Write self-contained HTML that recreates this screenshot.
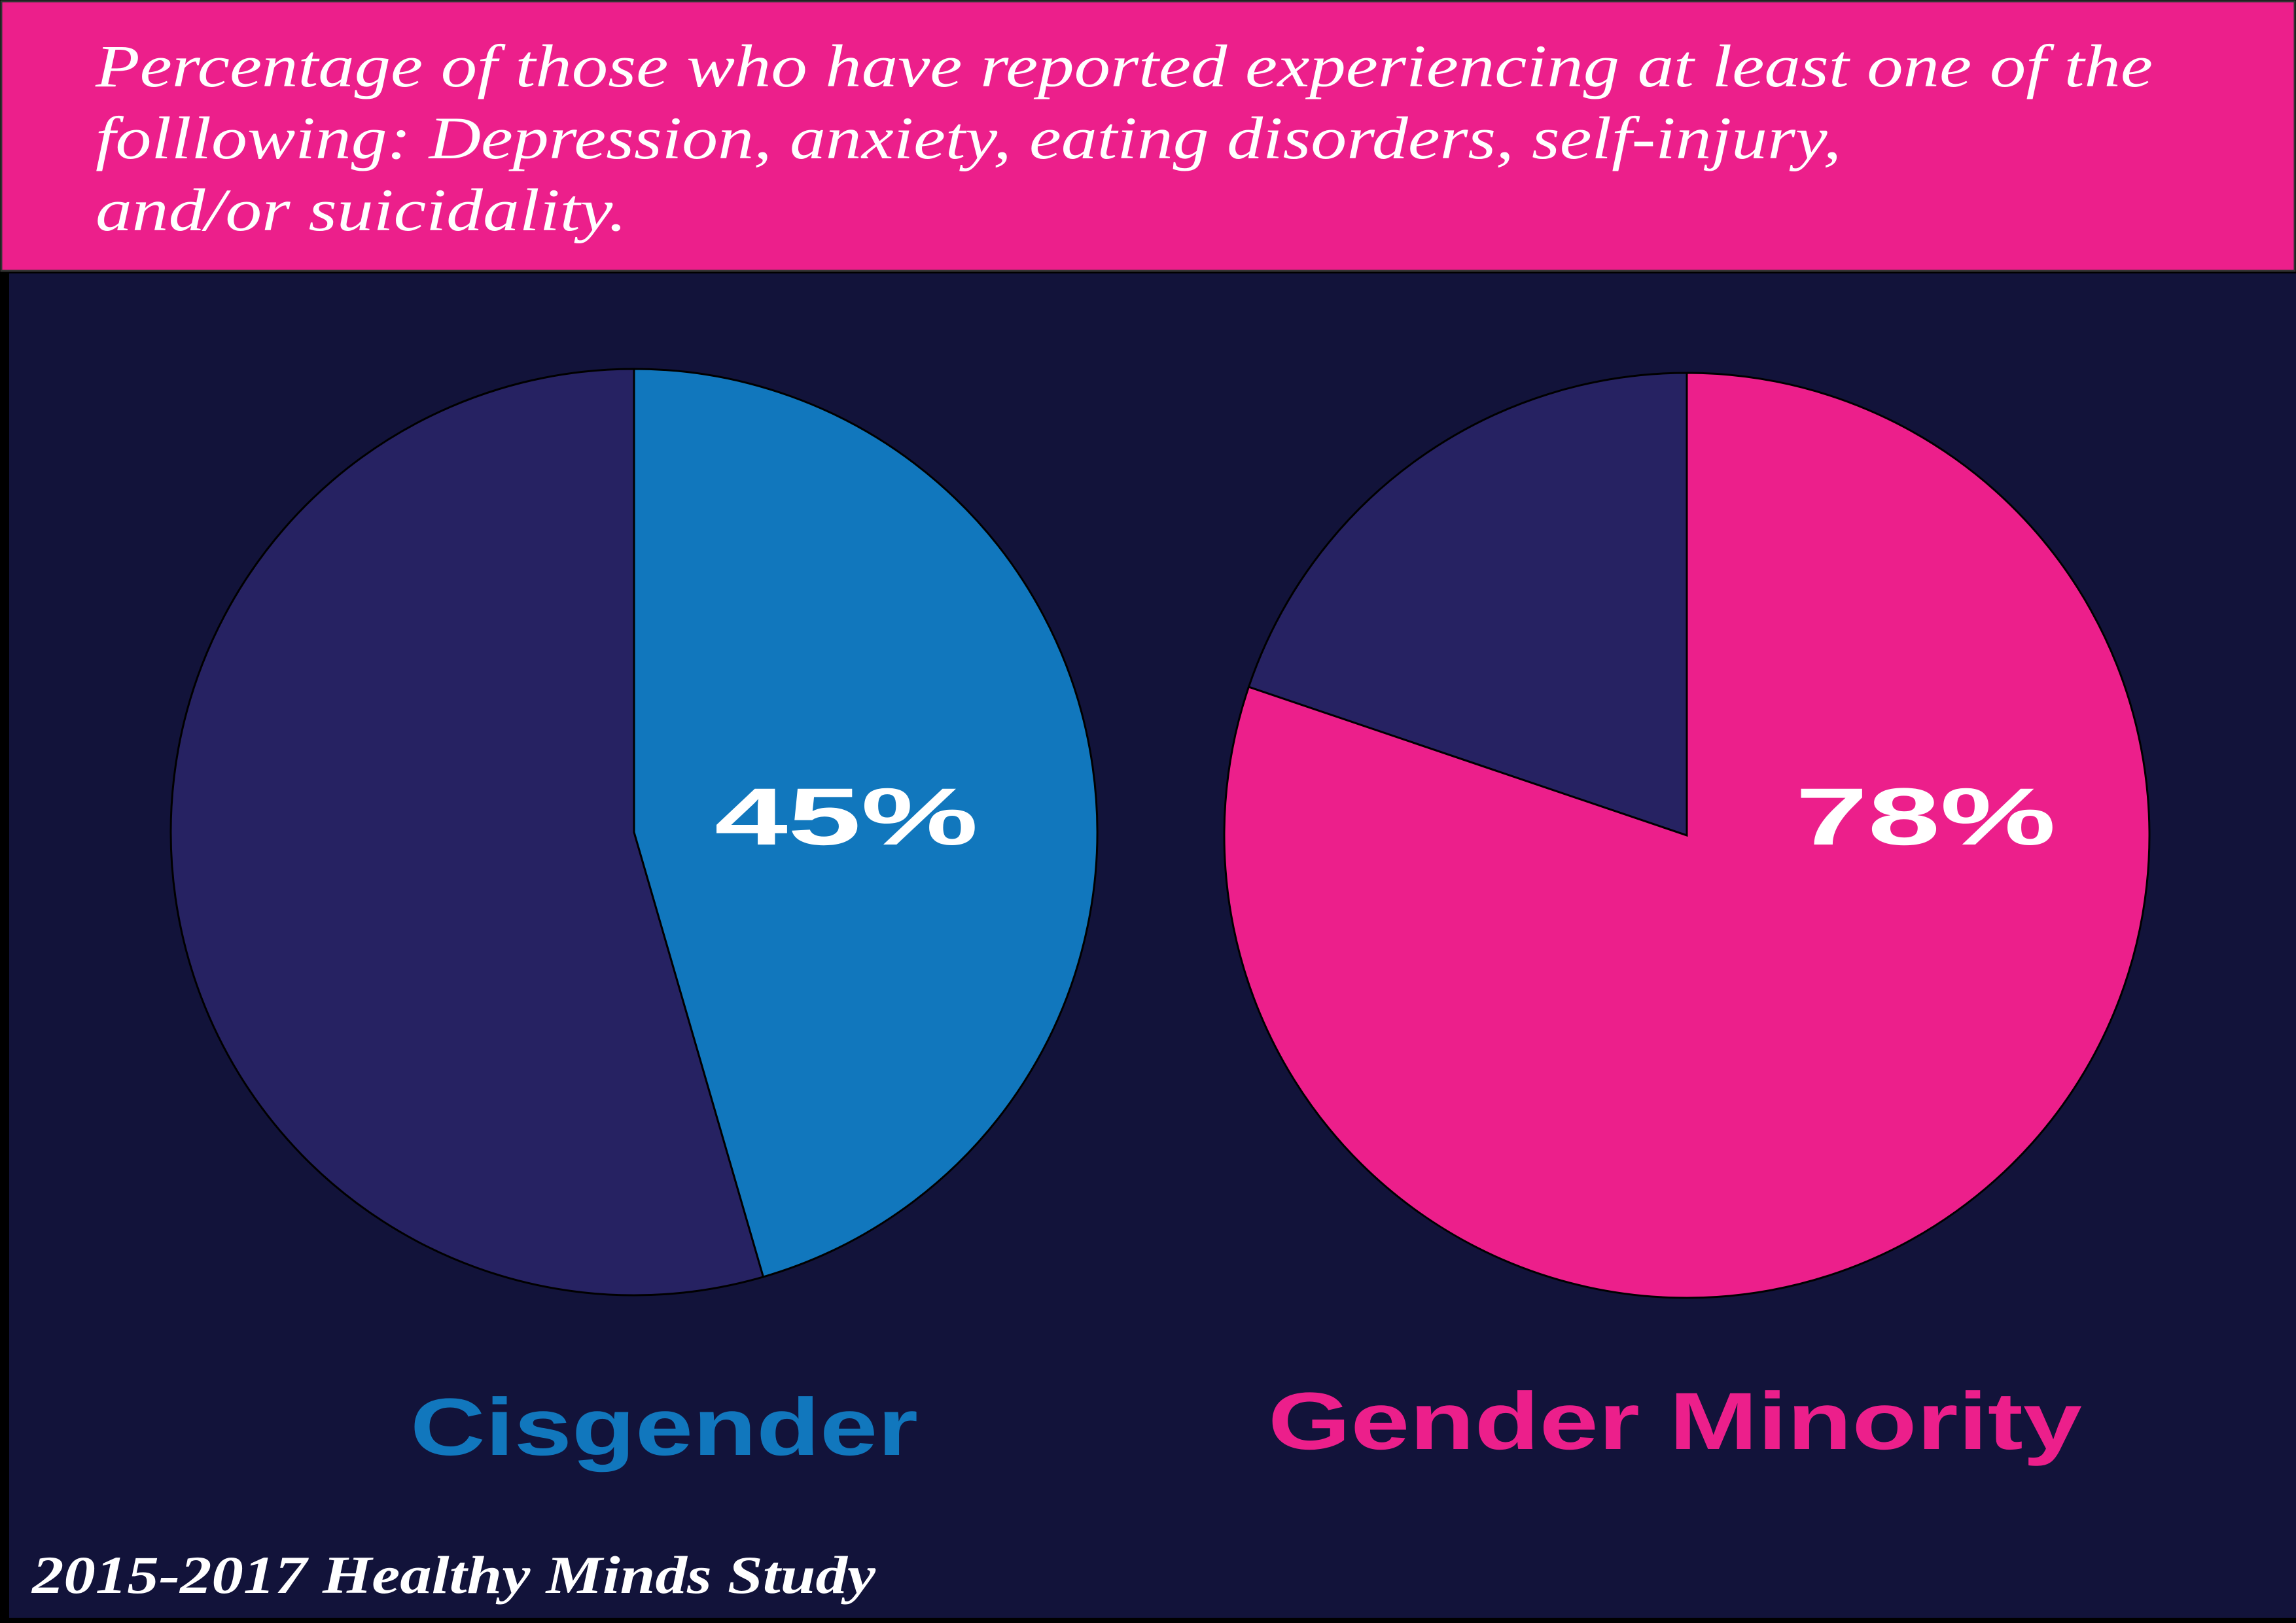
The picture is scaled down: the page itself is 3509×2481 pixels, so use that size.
<!DOCTYPE html>
<html><head><meta charset="utf-8"><style>
html,body{margin:0;padding:0;background:#000;}
svg{display:block;}
</style></head><body>
<svg width="3509" height="2481" viewBox="0 0 3509 2481" xmlns="http://www.w3.org/2000/svg">
<rect x="0" y="0" width="3509" height="2481" fill="#000"/>
<rect x="14" y="418" width="3495" height="2055" fill="#12133a"/>
<rect x="2" y="2" width="3505" height="412" fill="#ec1f8b" stroke="#333" stroke-width="3"/>
<g font-family="'Liberation Serif', serif" font-style="italic" fill="#fff" font-size="92">
<text x="146" y="132" textLength="3144" lengthAdjust="spacingAndGlyphs">Percentage of those who have reported experiencing at least one of the</text>
<text x="146" y="242" textLength="2668" lengthAdjust="spacingAndGlyphs">folllowing: Depression, anxiety, eating disorders, self-injury,</text>
<text x="146" y="352" textLength="812" lengthAdjust="spacingAndGlyphs">and/or suicidality.</text>
</g>
<g id="pies"></g>
<text x="49" y="2435" font-family="'Liberation Serif', serif" font-style="italic" font-weight="bold" font-size="82" fill="#fff" textLength="1289" lengthAdjust="spacingAndGlyphs">2015-2017 Healthy Minds Study</text>
</svg>
<script>
const groups = ["Cisgender", "Gender Minority"];
const percentValues = [45.5, 80.2];
const valueLabels = ["45%", "78%"];

const NS = "http://www.w3.org/2000/svg";
const g = document.getElementById("pies");
const layout = [
  {cx: 969, cy: 1272, r: 708, color: "#1177bd", labelX: 627, labelY: 2224, labelW: 776, pctX: 1092, pctW: 403},
  {cx: 2578, cy: 1277, r: 707, color: "#ec1f8b", labelX: 1938, labelY: 2215, labelW: 1244, pctX: 2744, pctW: 398}
];
function pt(cx, cy, r, frac) {
  const a = frac * 2 * Math.PI;
  return [cx + r * Math.sin(a), cy - r * Math.cos(a)];
}
function slice(cx, cy, r, f0, f1) {
  const p0 = pt(cx, cy, r, f0), p1 = pt(cx, cy, r, f1);
  const large = (f1 - f0) > 0.5 ? 1 : 0;
  return `M${cx},${cy} L${p0[0]},${p0[1]} A${r},${r} 0 ${large} 1 ${p1[0]},${p1[1]} Z`;
}
percentValues.forEach((v, i) => {
  const L = layout[i];
  const f = v / 100;
  const rest = document.createElementNS(NS, "path");
  rest.setAttribute("d", slice(L.cx, L.cy, L.r, f, 1));
  rest.setAttribute("fill", "#262262");
  rest.setAttribute("stroke", "#000");
  rest.setAttribute("stroke-width", "3");
  
  
  g.appendChild(rest);
  const s = document.createElementNS(NS, "path");
  s.setAttribute("d", slice(L.cx, L.cy, L.r, 0, f));
  s.setAttribute("fill", L.color);
  s.setAttribute("stroke", "#000");
  s.setAttribute("stroke-width", "3");
  
  
  g.appendChild(s);
  const t = document.createElementNS(NS, "text");
  t.setAttribute("x", L.pctX);
  t.setAttribute("y", 1291);
  t.setAttribute("font-family", "'Liberation Sans', sans-serif");
  t.setAttribute("font-weight", "bold");
  t.setAttribute("font-size", "124");
  t.setAttribute("fill", "#fff");
  t.setAttribute("textLength", L.pctW);
  t.setAttribute("lengthAdjust", "spacingAndGlyphs");
  t.textContent = valueLabels[i];
  
  
  g.appendChild(t);
  const lab = document.createElementNS(NS, "text");
  lab.setAttribute("x", L.labelX);
  lab.setAttribute("y", L.labelY);
  lab.setAttribute("font-family", "'Liberation Sans', sans-serif");
  lab.setAttribute("font-weight", "bold");
  lab.setAttribute("font-size", "124");
  lab.setAttribute("fill", L.color);
  lab.setAttribute("textLength", L.labelW);
  lab.setAttribute("lengthAdjust", "spacingAndGlyphs");
  lab.textContent = groups[i];
  
  
  g.appendChild(lab);
});
</script>
</body></html>
